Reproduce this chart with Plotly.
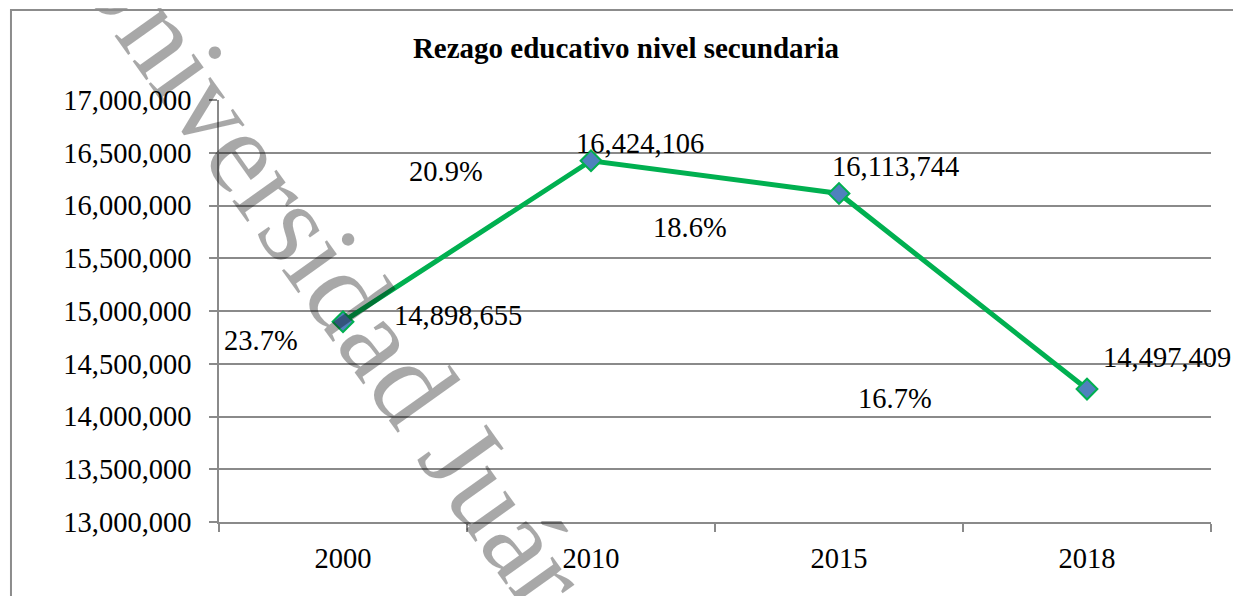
import plotly.graph_objects as go

years = ['2000', '2010', '2015', '2018']
# plotted positions of the points (as drawn in the chart)
values = [14898655, 16424106, 16113744, 14260000]
# text of the data labels
value_labels = ['14,898,655', '16,424,106', '16,113,744', '14,497,409']
pct_labels = ['23.7%', '20.9%', '18.6%', '16.7%']

FONT = 'Liberation Serif'
GRID = '#8a8a8a'

fig = go.Figure()
fig.add_trace(go.Scatter(
    x=years, y=values, mode='lines+markers',
    line=dict(color='#00B050', width=5),
    marker=dict(symbol='diamond', size=16, color='#4F81BD',
                line=dict(color='#00B050', width=2)),
    showlegend=False, hoverinfo='skip'))

# data labels: pixel offsets from each point
label_shift = [(115, 6), (49, 17), (56, 27), (80, 32)]
for i, (txt, (dx, dy)) in enumerate(zip(value_labels, label_shift)):
    fig.add_annotation(x=i, y=values[i], text=txt, showarrow=False,
                       xshift=dx, yshift=dy,
                       font=dict(family=FONT, size=28.5, color='black'))

# percentage labels, placed in category / value units
pct_pos = [(-0.33, 14721000), (0.415, 16319000), (1.40, 15790000), (2.226, 14173000)]
for txt, (px, py) in zip(pct_labels, pct_pos):
    fig.add_annotation(x=px, y=py, text=txt, showarrow=False,
                       font=dict(family=FONT, size=28.5, color='black'))

# watermark: translucent grey text laid over the chart
wx, wy = 0.152, 0.518
fig.add_shape(type='rect', xref='paper', yref='paper',
              x0=wx - 0.01, x1=wx + 0.01, y0=wy - 0.01, y1=wy + 0.01,
              line=dict(width=0), fillcolor='rgba(0,0,0,0)', layer='above',
              label=dict(text='Universidad Juárez', textangle=54.5,
                         textposition='middle center',
                         font=dict(family=FONT, size=118, color='rgba(0,0,0,0.34)')))

# outer chart border
fig.add_shape(type='rect', xref='paper', yref='paper',
              x0=-0.2097, x1=1.0292, y0=-0.25, y1=1.2133,
              line=dict(color='#8c8c8c', width=2), fillcolor='rgba(0,0,0,0)')

# the page body adds an 8px margin, so the figure is 8px smaller on each side
fig.update_layout(
    width=1233, height=588,
    margin=dict(l=211, r=30, t=92, b=74),
    paper_bgcolor='white', plot_bgcolor='white',
    font=dict(family=FONT, size=28.5, color='black'),
    title=dict(text='<b>Rezago educativo nivel secundaria</b>',
               x=0.5012, xref='container', xanchor='center',
               y=0.932, yref='container', yanchor='middle',
               font=dict(family=FONT, size=29, color='black')),
    xaxis=dict(type='category', showgrid=False, showline=True,
               linecolor=GRID, linewidth=1.5, ticks='outside', ticklen=8,
               tickcolor=GRID, tickwidth=1.5, tickson='boundaries',
               ticklabelstandoff=10, range=[-0.5, 3.5]),
    yaxis=dict(range=[13000000, 17000000], dtick=500000, tickformat=',d',
               showgrid=True, gridcolor=GRID, gridwidth=1.5,
               showline=True, linecolor=GRID, linewidth=1.5,
               ticks='outside', ticklen=8, tickcolor=GRID, tickwidth=1.5,
               ticklabelstandoff=12, zeroline=False),
)

fig.write_html('out.html')
